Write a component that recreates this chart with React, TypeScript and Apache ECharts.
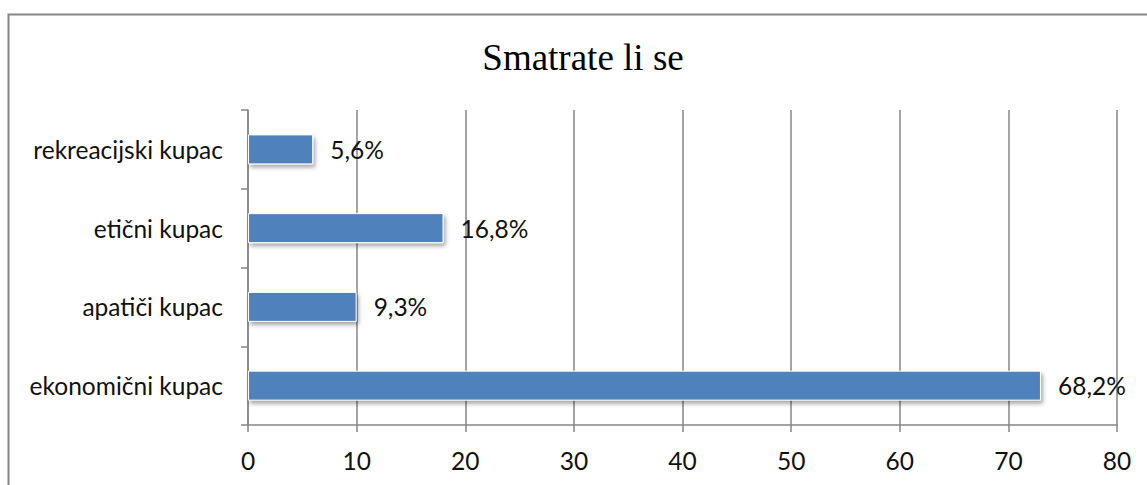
import React, { useEffect, useRef } from "react";
import * as echarts from "echarts";

const categories = ["ekonomični kupac", "apatiči kupac", "etični kupac", "rekreacijski kupac"];
const values = [73, 10, 18, 6];
const valueLabels = ["68,2%", "9,3%", "16,8%", "5,6%"];
const xTicks = { min: 0, max: 80, interval: 10 };
const title = "Smatrate li se";

export default function App() {
  const ref = useRef<HTMLDivElement>(null);
  useEffect(() => {
    if (!ref.current) return;
    const chart = echarts.init(ref.current, null, { renderer: "svg" });
    const font = "Lato, sans-serif";
    const fs = 24.5;
    chart.setOption({
      animation: false,
      backgroundColor: "#ffffff",
      title: {
        text: title,
        left: 578,
        textAlign: "center",
        top: 34,
        textStyle: { fontFamily: "'Liberation Serif', serif", fontSize: 37, fontWeight: "normal", color: "#000" },
      },
      graphic: [
        {
          type: "rect",
          shape: { x: 8.5, y: 14.5, width: 1160, height: 500 },
          style: { fill: "none", stroke: "#868686", lineWidth: 2 },
          silent: true,
        },
      ],
      grid: { left: 248, right: 30, top: 110, bottom: 60 },
      xAxis: {
        type: "value",
        min: xTicks.min,
        max: xTicks.max,
        interval: xTicks.interval,
        axisLine: { show: true, lineStyle: { color: "#868686", width: 1.5 } },
        axisTick: { show: true, length: 7, lineStyle: { color: "#868686", width: 1.5 } },
        axisLabel: { margin: 23, fontFamily: font, fontSize: fs, color: "#111" },
        splitLine: { show: true, lineStyle: { color: "#868686", width: 1.5 } },
      },
      yAxis: {
        type: "category",
        data: categories,
        axisLine: { show: true, lineStyle: { color: "#868686", width: 1.5 } },
        axisTick: { show: true, length: 7, lineStyle: { color: "#868686", width: 1.5 } },
        axisLabel: { margin: 25, fontFamily: font, fontSize: fs, color: "#111" },
        splitLine: { show: false },
      },
      series: [
        {
          type: "bar",
          data: values,
          barWidth: 30,
          itemStyle: {
            color: "#4f81bd",
            borderColor: "#ffffff",
            borderWidth: 1,
            shadowColor: "rgba(0,0,0,0.35)",
            shadowBlur: 4,
            shadowOffsetX: 2,
            shadowOffsetY: 3,
          },
          label: {
            show: true,
            position: "right",
            distance: 17,
            fontFamily: font,
            fontSize: fs,
            color: "#111",
            formatter: (p: any) => valueLabels[p.dataIndex],
          },
        },
      ],
    });
    return () => chart.dispose();
  }, []);
  return <div ref={ref} style={{ position: "absolute", left: 0, top: 0, width: 1147, height: 485 }} />;
}
